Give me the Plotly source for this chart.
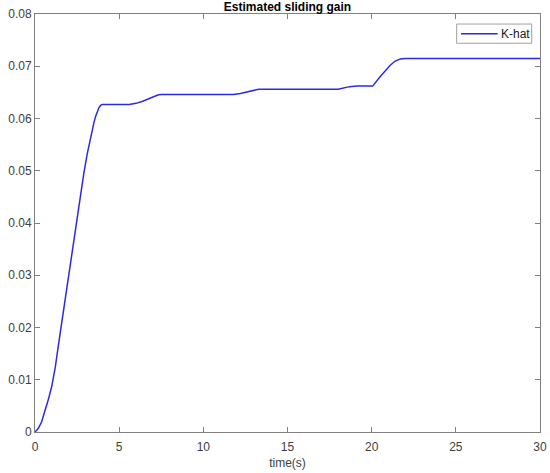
import plotly.graph_objects as go

# Values
time_s = [0, 0.2, 0.4, 0.6, 0.8, 1.0, 1.2, 1.5, 1.7, 2.0, 2.33, 2.5, 2.7, 2.9, 3.1, 3.3, 3.5,
          3.6, 3.7, 3.8, 3.9, 4.0,
          5.6, 6.0, 6.4, 6.8, 7.1, 7.3, 7.5,
          11.8, 12.2, 12.6, 12.9, 13.1, 13.3,
          18.0, 18.3, 18.7, 19.1,
          20.06, 20.5, 20.8, 21.1, 21.4, 21.7, 22.0, 30]
k_hat = [0, 0.0007, 0.0020, 0.0040, 0.0063, 0.0088, 0.0123, 0.0190, 0.0234, 0.0300, 0.0377,
         0.0412, 0.0455, 0.0495, 0.0532, 0.0564, 0.0592, 0.0604, 0.0614, 0.0621, 0.0625, 0.0627,
         0.0627, 0.0629, 0.0633, 0.0639, 0.0643, 0.0645, 0.0646,
         0.0646, 0.0648, 0.0651, 0.0654, 0.0655, 0.0656,
         0.0656, 0.0658, 0.0661, 0.0662,
         0.0662, 0.0680, 0.0692, 0.0702, 0.0710, 0.0714, 0.0715, 0.0715]

x_ticks = [0, 5, 10, 15, 20, 25, 30]
y_ticks = [0, 0.01, 0.02, 0.03, 0.04, 0.05, 0.06, 0.07, 0.08]
y_tick_labels = ["0", "0.01", "0.02", "0.03", "0.04", "0.05", "0.06", "0.07", "0.08"]
series_name = "K-hat"

font = "Liberation Sans, Arial, sans-serif"
axis_col = "#808080"
text_col = "#404040"
line_col = "#2b2be6"

fig = go.Figure()
fig.add_trace(go.Scatter(
    x=time_s, y=k_hat, mode="lines", name=series_name,
    line=dict(color=line_col, width=1.5), showlegend=False
))

axis_common = dict(
    showgrid=False, zeroline=False, showline=True, linecolor=axis_col, linewidth=1,
    mirror="ticks", ticks="inside", ticklen=5, tickcolor=axis_col, automargin=False,
    tickfont=dict(family=font, size=12, color=text_col)
)

fig.update_layout(
    width=550, height=473,
    margin=dict(l=35, r=10, t=14, b=41),
    paper_bgcolor="white", plot_bgcolor="white",
    title=dict(text="<b>Estimated sliding gain</b>", x=0.5, xref="paper", xanchor="center",
               y=1 - 7 / 473, yref="container", yanchor="middle", automargin=False,
               font=dict(family=font, size=12, color="#000000")),
    xaxis=dict(range=[0, 30], tickvals=x_ticks, ticklabelstandoff=4,
               title=dict(text="time(s)", standoff=5, font=dict(family=font, size=12, color=text_col)),
               **axis_common),
    yaxis=dict(range=[0, 0.08], tickvals=y_ticks, ticktext=y_tick_labels, **axis_common),
    showlegend=False,
)

# legend box drawn by hand (MATLAB style, compact)
fig.add_shape(type="rect", xref="paper", yref="paper", x0=0.835, x1=0.9836, y0=0.930, y1=0.976,
              line=dict(color="#a0a0a0", width=1), fillcolor="white", layer="above")
fig.add_shape(type="line", xref="paper", yref="paper", x0=0.8436, x1=0.9162, y0=0.953, y1=0.953,
              line=dict(color=line_col, width=1.5), layer="above")
fig.add_annotation(xref="paper", yref="paper", x=0.919, y=0.953, xanchor="left", yanchor="middle",
                   text=series_name, showarrow=False,
                   font=dict(family=font, size=12, color="#202020"))

# drop the browser's default body margin so the figure sits at the page corner
fig.write_html("out.html", config={"displayModeBar": False},
               post_script="document.body.style.margin='0';")
